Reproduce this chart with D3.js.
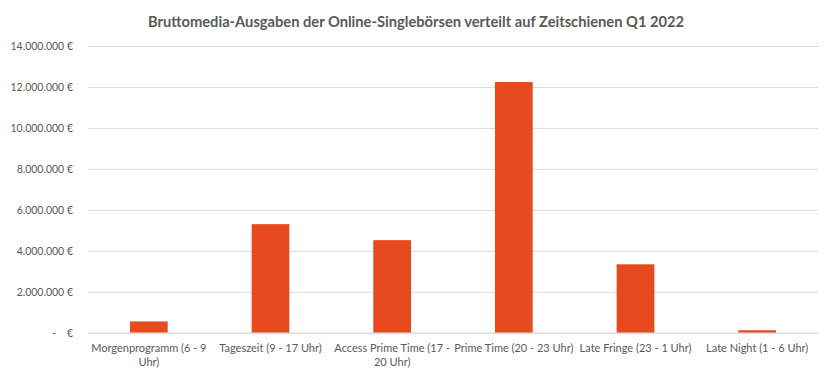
<!DOCTYPE html>
<html><head><meta charset="utf-8">
<script src="https://cdn.jsdelivr.net/npm/d3@7"></script>
<style>
body{margin:0;background:#fff;}
text{font-family:Lato,"Open Sans",sans-serif;}
</style></head>
<body><svg id="c" width="832" height="384"></svg>
<script>
const categories = ["Morgenprogramm (6 - 9 Uhr)","Tageszeit (9 - 17 Uhr)","Access Prime Time (17 - 20 Uhr)","Prime Time (20 - 23 Uhr)","Late Fringe (23 - 1 Uhr)","Late Night (1 - 6 Uhr)"];
const values = [550000, 5300000, 4520000, 12240000, 3340000, 120000];
const yTicks = [0,2000000,4000000,6000000,8000000,10000000,12000000,14000000];
const title = "Bruttomedia-Ausgaben der Online-Singlebörsen verteilt auf Zeitschienen Q1 2022";

const svg = d3.select("#c");
const m = {l:88, r:14, t:46, b:51.3};
const W = 832, H = 384;
const x = d3.scaleBand().domain(categories).range([m.l, W-m.r]).paddingInner(0.69).paddingOuter(0.345);
const y = d3.scaleLinear().domain([0,14000000]).range([H-m.b, m.t]);

svg.append("text").attr("x", 416).attr("y", 27).attr("text-anchor","middle")
  .attr("font-size", 14.7).attr("font-weight","bold").attr("fill","#595959").text(title);

const fmt = v => v===0 ? "-\u00a0\u00a0\u00a0\u00a0€" : d3.format(",")(v).replace(/,/g,".") + " €";
const ya = svg.append("g").attr("transform", `translate(${m.l},0)`)
  .call(d3.axisLeft(y).tickValues(yTicks).tickSize(-(W-m.l-m.r)).tickFormat(fmt).tickPadding(15));
ya.select(".domain").remove();
ya.selectAll(".tick line").attr("stroke","#d9d9d9");
ya.selectAll(".tick text").attr("fill","#595959").attr("font-size",10.5);

svg.selectAll("rect.bar").data(values).join("rect").attr("class","bar")
  .attr("x",(d,i)=>x(categories[i])).attr("width",x.bandwidth())
  .attr("y",d=>y(d)).attr("height",d=>y(0)-y(d)).attr("fill","#E84A1F");

const xa = svg.append("g").attr("transform",`translate(0,${y(0)})`)
  .call(d3.axisBottom(x).tickSize(0).tickPadding(12));
xa.select(".domain").attr("stroke","#d9d9d9");
xa.selectAll(".tick text").attr("fill","#595959").attr("font-size",11)
  .each(function(d){
    const t = d3.select(this); const words = d.split(" "); t.text(null);
    const maxW = x.step()-1; let line=[]; let lines=[];
    const tmp = t.append("tspan");
    words.forEach(w=>{ line.push(w); tmp.text(line.join(" "));
      if (tmp.node().getComputedTextLength()>maxW && line.length>1){ line.pop(); lines.push(line.join(" ")); line=[w]; }});
    lines.push(line.join(" ")); tmp.remove();
    const dy0 = t.attr("dy");
    lines.forEach((l,i)=>t.append("tspan").attr("x",0).attr("dy", i===0? dy0 : "1.25em").text(l));
  });
</script></body></html>
